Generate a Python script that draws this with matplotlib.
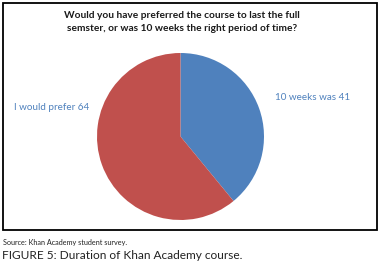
import matplotlib
matplotlib.use('Agg')
import matplotlib.pyplot as plt
from matplotlib.patches import Rectangle

labels = ['10 weeks was', 'I would prefer']
values = [41, 64]
colors = ['#4F81BD', '#C0504D']

W, H = 380, 264
fig = plt.figure(figsize=(W / 100, H / 100), dpi=100)
plt.rcParams['font.family'] = ['Lato', 'DejaVu Sans']


def px(x, y):
    return x / W, 1 - y / H


# frame around the chart
fig.patches.append(Rectangle(px(2.7, 230), (376.7 - 2.7) / W, (230 - 2.5) / H,
                             transform=fig.transFigure, fill=False,
                             edgecolor='black', linewidth=1.3))

ax = fig.add_axes([97 / W, 44 / H, 167 / W, 167 / H])
ax.pie(values, colors=colors, startangle=90, counterclock=False,
       wedgeprops=dict(linewidth=0))
ax.set_xlim(-1, 1)
ax.set_ylim(-1, 1)
ax.set_aspect('equal')
ax.axis('off')

fig.text(*px(182, 22), 'Would you have preferred the course to last the full\n'
         'semster, or was 10 weeks the right period of time?',
         ha='center', va='center', fontsize=7.3, fontweight='bold',
         linespacing=1.5, color='#1a1a1a')

fig.text(*px(275, 98), f'{labels[0]} {values[0]}', ha='left', va='center',
         fontsize=7.1, color='#4F81BD')
fig.text(*px(14, 107), f'{labels[1]} {values[1]}', ha='left', va='center',
         fontsize=7.1, color='#4F81BD')

fig.text(*px(3, 243), 'Source: Khan Academy student survey.', ha='left',
         va='center', fontsize=5.2, color='#222222')
fig.text(*px(2, 255.5), 'FIGURE 5: Duration of Khan Academy course.', ha='left',
         va='center', fontsize=8.6, color='#222222')

fig.savefig('out.png', dpi=100)
